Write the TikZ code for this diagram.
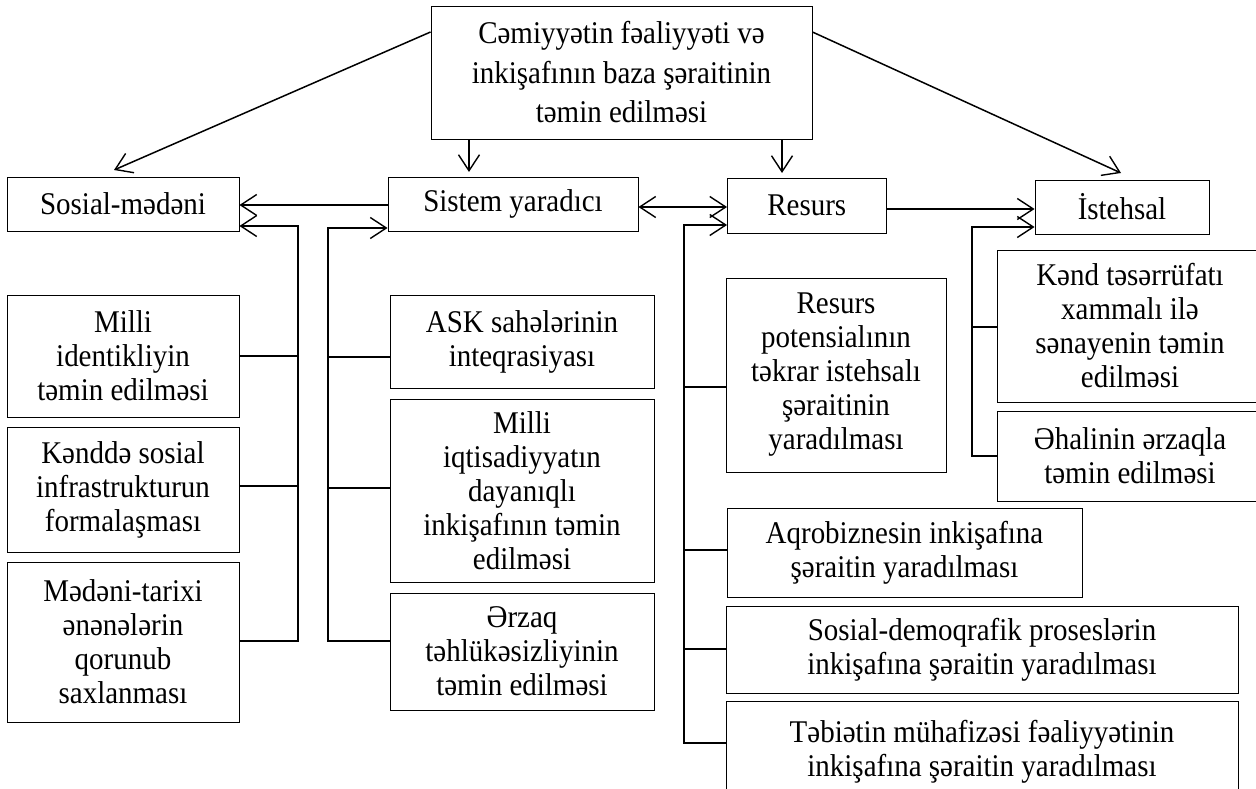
\documentclass[tikz,border=0pt]{standalone}
\usepackage{fontspec}
\setmainfont{Liberation Serif}[FakeStretch=0.917]
\usetikzlibrary{arrows.meta}
\begin{document}
\begin{tikzpicture}[x=1pt,y=-1pt,
  box/.style={draw, line width=0.9pt, inner sep=0pt, align=center,
              font=\fontsize{31.6}{34}\selectfont},
  conn/.style={line width=1.5pt},
  tipb/.tip={Straight Barb[length=16pt,width=21pt,line width=1.4pt]},
  arr/.style={conn, -tipb},
  darr/.style={conn, tipb-tipb}
]
\useasboundingbox (0,0) rectangle (1256,789);
\clip (0,0) rectangle (1256,789);
\fill[white] (0,0) rectangle (1256,789);

% top node
\node[box, minimum width=381pt, minimum height=133pt,
      font=\fontsize{31.6}{39.5}\selectfont] (top) at (621.5,72.5)
  {Cəmiyyətin fəaliyyəti və\\ inkişafının baza şəraitinin\\ təmin edilməsi};

% second level
\node[box, minimum width=232pt, minimum height=54pt] (sos) at (123,204) {Sosial-mədəni};
\node[box, minimum width=250pt, minimum height=54pt] (sis) at (513,204) {Sistem yaradıcı};
\node[box, minimum width=158.5pt, minimum height=55pt] (res) at (806.75,205.5) {Resurs};
\node[box, minimum width=174pt, minimum height=54pt] (ist) at (1122,207) {İstehsal};

% left column
\node[box, minimum width=232pt, minimum height=122pt] (mi) at (123,356)
  {Milli\\ identikliyin\\ təmin edilməsi};
\node[box, minimum width=232pt, minimum height=125pt] (kd) at (123,489.5)
  {Kənddə sosial\\ infrastrukturun\\ formalaşması};
\node[box, minimum width=232pt, minimum height=160pt] (mt) at (123,642)
  {Mədəni-tarixi\\ ənənələrin\\ qorunub\\ saxlanması};

% middle column
\node[box, minimum width=264pt, minimum height=93pt] (ask) at (522,341.5)
  {ASK sahələrinin\\ inteqrasiyası};
\node[box, minimum width=264pt, minimum height=183pt] (mq) at (522,490.5)
  {Milli\\ iqtisadiyyatın\\ dayanıqlı\\ inkişafının təmin\\ edilməsi};
\node[box, minimum width=264pt, minimum height=117pt] (erz) at (522,651.5)
  {Ərzaq\\ təhlükəsizliyinin\\ təmin edilməsi};

% resource column
\node[box, minimum width=220pt, minimum height=194pt] (rp) at (836,375)
  {Resurs\\ potensialının\\ təkrar istehsalı\\ şəraitinin\\ yaradılması};
\node[box, minimum width=355pt, minimum height=89pt] (aq) at (904.5,552.5)
  {Aqrobiznesin inkişafına\\ şəraitin yaradılması};
\node[box, minimum width=512pt, minimum height=87pt] (sd) at (982,649.5)
  {Sosial-demoqrafik proseslərin\\ inkişafına şəraitin yaradılması};
\node[box, minimum width=512pt, minimum height=101pt] (tb) at (982,751.5)
  {Təbiətin mühafizəsi fəaliyyətinin\\ inkişafına şəraitin yaradılması};

% production column
\node[box, minimum width=266pt, minimum height=152pt] (kn) at (1130,326)
  {Kənd təsərrüfatı\\ xammalı ilə\\ sənayenin təmin\\ edilməsi};
\node[box, minimum width=266pt, minimum height=90pt] (eh) at (1130,456)
  {Əhalinin ərzaqla\\ təmin edilməsi};

% free ends and bus corners
\coordinate (tipS) at (114,170);
\coordinate (tipI) at (1121,173);
\coordinate (busL) at (298,226);
\coordinate (busS) at (328,228);
\coordinate (busR) at (684,225);
\coordinate (busI) at (972,227);

% arrows from the top
\draw[arr] (top.west |- 0,32) -- (tipS);
\draw[arr] (top.east |- 0,32) -- (tipI);
\draw[arr] (top.south -| 469,0) -- (469,172);
\draw[arr] (top.south -| 782,0) -- (782,173);

% horizontal links
\draw[arr] (sis.west |- 0,205) -- (sos.east |- 0,205);
\draw[darr] (sis.east |- 0,207) -- (res.west |- 0,207);
\draw[arr] (res.east |- 0,209) -- (ist.west |- 0,209);

% socio-cultural bus
\draw[arr] (mt.east |- 0,641) -| (busL) -- (sos.east |- busL);
\draw[conn] (mi.east) -- (mi.east -| busL);
\draw[conn] (kd.east |- 0,486) -- (busL |- 0,486);

% system bus
\draw[arr] (erz.west |- 0,641) -| (busS) -- (sis.west |- busS);
\draw[conn] (ask.west |- 0,357) -- (busS |- 0,357);
\draw[conn] (mq.west |- 0,488) -- (busS |- 0,488);

% resource bus
\draw[arr] (tb.west |- 0,743) -| (busR) -- (res.west |- busR);
\draw[conn] (rp.west |- 0,387) -- (busR |- 0,387);
\draw[conn] (aq.west |- 0,550) -- (busR |- 0,550);
\draw[conn] (sd.west |- 0,649) -- (busR |- 0,649);

% production bus
\draw[arr] (eh.west) -| (busI) -- (ist.west |- busI);
\draw[conn] (kn.west |- 0,327) -- (busI |- 0,327);
\end{tikzpicture}
\end{document}
